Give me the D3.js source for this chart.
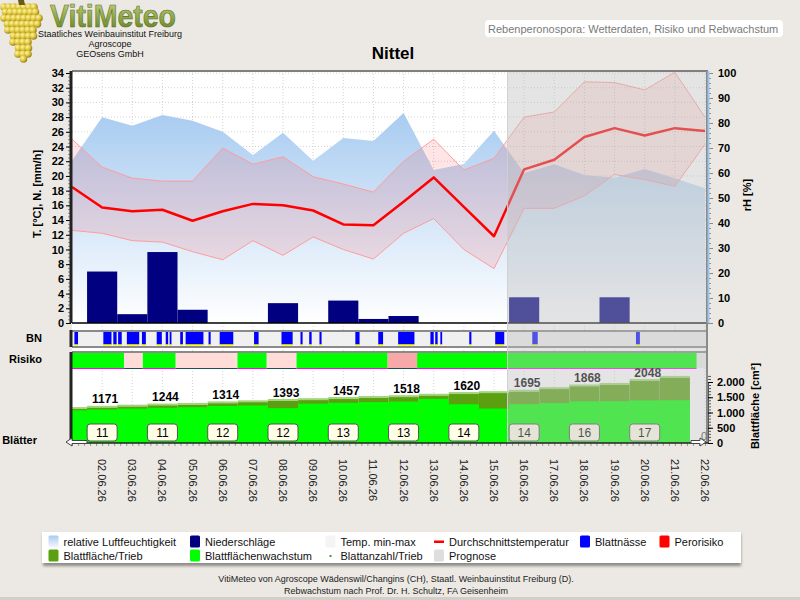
<!DOCTYPE html>
<html>
<head>
<meta charset="utf-8">
<script src="https://cdn.jsdelivr.net/npm/d3@7"></script>
<style>
  body { margin: 0; background: #ece9e4; }
  svg { display: block; font-family: "Liberation Sans", Arial, sans-serif; }
</style>
</head>
<body>
<div id="chart"></div>
<script>
// ---- data (days 1..22 = 01.06.26 .. 22.06.26) ----
const days = d3.range(1, 23);
const dateLabels = ["02.06.26", "03.06.26", "04.06.26", "05.06.26", "06.06.26", "07.06.26", "08.06.26",
  "09.06.26", "10.06.26", "11.06.26", "12.06.26", "13.06.26", "14.06.26", "15.06.26", "16.06.26",
  "17.06.26", "18.06.26", "19.06.26", "20.06.26", "21.06.26", "22.06.26"];
const tempAvg = [18.5, 15.7, 15.2, 15.4, 13.9, 15.2, 16.2, 16.0, 15.3, 13.4, 13.3, 16.5, 19.8, 15.8, 11.8,
  20.9, 22.2, 25.3, 26.5, 25.5, 26.5, 26.1];
const tempMin = [12.6, 12.2, 11.2, 11.0, 9.7, 8.6, 11.2, 9.2, 11.7, 10.0, 8.7, 12.2, 14.2, 10.0, 7.4,
  15.6, 15.6, 17.3, 20.2, 19.5, 18.6, 24.3];
const tempMax = [25.0, 21.2, 19.7, 19.3, 19.3, 23.8, 21.6, 22.6, 19.9, 18.9, 17.8, 22.0, 25.0, 20.8, 22.4,
  28.0, 28.7, 32.8, 32.7, 31.7, 34.1, 28.0];
const humidity = [65.0, 82.3, 78.9, 83.2, 80.9, 76.5, 67.2, 76.1, 64.9, 74.0, 72.8, 84.0, 61.2, 63.6, 76.9,
  59.9, 63.5, 59.2, 58.1, 61.6, 57.9, 53.9];
const precip = [0, 7.0, 1.2, 9.65, 1.8, 0, 0, 2.7, 0, 3.05, 0.55, 0.95, 0, 0, 0, 3.5, 0, 0, 3.5, 0, 0, 0];

// leaf wetness periods [from, to] in days
const wetness = [[1.08, 1.2], [2.04, 2.31], [2.37, 2.48], [2.53, 2.65], [2.82, 3.23], [3.32, 3.45],
  [3.81, 3.98], [4.11, 4.19], [4.24, 4.3], [4.59, 4.68], [4.77, 5.36], [5.53, 5.6], [5.9, 6.35],
  [7.04, 7.19], [7.95, 8.32], [8.58, 8.65], [8.87, 8.95], [9.21, 9.28], [10.4, 10.54], [11.16, 11.32],
  [11.82, 12.36], [12.89, 13.0], [13.05, 13.13], [13.22, 13.28], [14.18, 14.25], [15.04, 15.34],
  [16.27, 16.45], [19.71, 19.84]];

// infection risk periods [from, to, level]
const riskPeriods = [[1.0, 2.73, 0], [2.73, 3.35, 1], [3.35, 4.44, 0], [4.44, 6.49, 1], [6.49, 7.46, 0],
  [7.46, 8.45, 1], [8.45, 11.47, 0], [11.47, 12.45, 2], [12.45, 21.72, 0]];
const riskColors = ["#00ff00", "#ffdcd8", "#f7a8a8"];

// leaf area per shoot (cm²), days 1..21
const leafArea = [1128, 1171, 1207, 1244, 1265, 1314, 1350, 1393, 1420, 1457, 1490, 1518, 1565, 1620, 1650,
  1695, 1780, 1868, 1920, 2048, 2150];
const leafGrowth = [1070, 1100, 1127, 1154, 1175, 1214, 1230, 1143, 1290, 1317, 1340, 1358, 1445, 1270, 1130,
  1275, 1310, 1368, 1370, 1398, 1400];
const leafLabelDays = [2, 4, 6, 8, 10, 12, 14, 16, 18, 20];
const leafCounts = [11, 11, 12, 12, 13, 13, 14, 14, 16, 17];
const prognoseStart = 15.45;

// ---- layout ----
const width = 800, height = 600;
const L = 72, R = 708;
const mainTop = 71, mainBottom = 330;
const bnTop = 332, bnBottom = 346;
const riskTop = 353, riskBottom = 368;
const leafTop = 369, leafBottom = 443;

const x = d3.scaleLinear().domain([1, 22]).range([72, 705]);
const yT = d3.scaleLinear().domain([0, 34]).range([323, 73]);
const yH = d3.scaleLinear().domain([0, 100]).range([323, 73]);
const yL = d3.scaleLinear().domain([0, 2000]).range([443, 382]);
const de = d3.formatLocale({ decimal: ",", thousands: ".", grouping: [3], currency: ["", " €"] });

const svg = d3.select("#chart").append("svg")
  .attr("width", width).attr("height", height);

const defs = svg.append("defs");
let hg = defs.append("linearGradient").attr("id", "hum")
  .attr("gradientUnits", "userSpaceOnUse").attr("x1", 0).attr("x2", 0).attr("y1", 73).attr("y2", 323);
hg.append("stop").attr("offset", 0).attr("stop-color", "#98c2ee");
hg.append("stop").attr("offset", 1).attr("stop-color", "#ffffff");
let lg = defs.append("linearGradient").attr("id", "logo").attr("x1", 0).attr("x2", 0).attr("y1", 0).attr("y2", 1);
lg.append("stop").attr("offset", 0).attr("stop-color", "#c9d68e");
lg.append("stop").attr("offset", 0.55).attr("stop-color", "#8da545");
lg.append("stop").attr("offset", 1).attr("stop-color", "#5d7a22");
let gg = defs.append("radialGradient").attr("id", "berry").attr("cx", 0.35).attr("cy", 0.35).attr("r", 0.7);
gg.append("stop").attr("offset", 0).attr("stop-color", "#fff6a0");
gg.append("stop").attr("offset", 0.55).attr("stop-color", "#dcc23a");
gg.append("stop").attr("offset", 1).attr("stop-color", "#8f7a14");
let li = defs.append("linearGradient").attr("id", "legHum").attr("x1", 0).attr("x2", 0).attr("y1", 0).attr("y2", 1);
li.append("stop").attr("offset", 0).attr("stop-color", "#a8cbf0");
li.append("stop").attr("offset", 1).attr("stop-color", "#f4f8ff");
defs.append("filter").attr("id", "shadow").append("feGaussianBlur").attr("stdDeviation", 1.5);

// background
svg.append("rect").attr("width", width).attr("height", height).attr("fill", "#ece9e4");
svg.append("rect").attr("y", 597).attr("width", width).attr("height", 3).attr("fill", "#d3cfc8");

// ---- header ----
let logo = svg.append("g");
// grape cluster
let rows = [[7, 4, 38], [12, 3, 40], [18, 4, 40], [24, 5, 38], [30, 8, 36], [36, 11, 34], [42, 13, 32], [48, 16, 30], [54, 18, 28], [59, 21, 26]];
rows.forEach((r, i) => {
  for (let cx = r[1] + (i % 2 ? 2.5 : 0); cx <= r[2]; cx += 5) {
    logo.append("circle").attr("cx", cx).attr("cy", r[0]).attr("r", 3.8).attr("fill", "url(#berry)");
  }
});
logo.append("path").attr("d", "M18,0 L24,0 L25,5 L19,5 Z").attr("fill", "#6b5a1c");
logo.append("text").attr("x", 50).attr("y", 27).attr("font-size", 31).attr("font-weight", "bold")
  .attr("textLength", 126).attr("lengthAdjust", "spacingAndGlyphs")
  .attr("fill", "url(#logo)").attr("stroke", "#56701e").attr("stroke-width", 0.6).text("VitiMeteo");
[["Staatliches Weinbauinstitut Freiburg", 37], ["Agroscope", 47], ["GEOsens GmbH", 57]].forEach(t => {
  logo.append("text").attr("x", 110).attr("y", t[1]).attr("text-anchor", "middle")
    .attr("font-size", 9).attr("fill", "#111").text(t[0]);
});

svg.append("rect").attr("x", 485).attr("y", 20).attr("width", 298).attr("height", 17).attr("rx", 4).attr("fill", "#fff");
svg.append("text").attr("x", 488).attr("y", 32.5).attr("font-size", 11).attr("fill", "#7a7a7a")
  .text("Rebenperonospora: Wetterdaten, Risiko und Rebwachstum");
svg.append("text").attr("x", 393).attr("y", 59).attr("text-anchor", "middle")
  .attr("font-size", 17).attr("font-weight", "bold").attr("fill", "#000").text("Nittel");

// ---- plot backgrounds & grid ----
svg.append("rect").attr("x", L).attr("y", mainTop).attr("width", R - L).attr("height", leafBottom - mainTop).attr("fill", "#fff");

let grid = svg.append("g").attr("stroke", "#d4d4d4").attr("stroke-dasharray", "1,2");
grid.selectAll("line.v").data(days.slice(1)).enter().append("line")
  .attr("x1", d => x(d)).attr("x2", d => x(d)).attr("y1", mainTop).attr("y2", leafBottom);
grid.selectAll("line.h").data(d3.range(2, 35, 2)).enter().append("line")
  .attr("x1", L).attr("x2", R).attr("y1", d => yT(d)).attr("y2", d => yT(d));

// ---- main chart ----
let rows22 = days.map((d, i) => ({ day: d, avg: tempAvg[i], min: tempMin[i], max: tempMax[i], hum: humidity[i], p: precip[i] }));

svg.append("path").datum(rows22).attr("fill", "url(#hum)")
  .attr("d", d3.area().x(d => x(d.day)).y0(yH(0)).y1(d => yH(d.hum)));

svg.append("path").datum(rows22).attr("fill", "rgba(255,40,40,0.12)")
  .attr("d", d3.area().x(d => x(d.day)).y0(d => yT(d.min)).y1(d => yT(d.max)));
["min", "max"].forEach(k => {
  svg.append("path").datum(rows22).attr("fill", "none").attr("stroke", "#ff9c9c").attr("stroke-width", 1)
    .attr("d", d3.line().x(d => x(d.day)).y(d => yT(d[k])));
});

svg.append("g").attr("fill", "#000080")
  .selectAll("rect").data(rows22.filter(d => d.p > 0)).enter().append("rect")
  .attr("x", d => x(d.day - 0.5)).attr("width", d => x(d.day + 0.5) - x(d.day - 0.5))
  .attr("y", d => yT(d.p)).attr("height", d => yT(0) - yT(d.p));

svg.append("path").datum(rows22).attr("fill", "none").attr("stroke", "#ff0000").attr("stroke-width", 2.5)
  .attr("stroke-linejoin", "round")
  .attr("d", d3.line().x(d => x(d.day)).y(d => yT(d.avg)));

svg.append("line").attr("x1", L).attr("x2", R).attr("y1", yT(0)).attr("y2", yT(0))
  .attr("stroke", "#000").attr("stroke-width", 1.5);

// ---- BN strip ----
svg.append("rect").attr("x", L).attr("y", bnTop).attr("width", R - L).attr("height", bnBottom - bnTop).attr("fill", "#f0f0f0");
let bn = svg.append("g");
bn.selectAll("rect.w").data(wetness).enter().append("rect")
  .attr("x", d => x(d[0])).attr("width", d => x(d[1]) - x(d[0]))
  .attr("y", bnTop).attr("height", bnBottom - bnTop - 1.5).attr("fill", "#0000ff");
bn.selectAll("rect.y").data(wetness).enter().append("rect")
  .attr("x", d => x(d[0])).attr("width", d => x(d[1]) - x(d[0]))
  .attr("y", bnBottom - 1.5).attr("height", 1.5).attr("fill", "#ffff00");
[331, 347, 352].forEach(y => {
  svg.append("line").attr("x1", L).attr("x2", R).attr("y1", y).attr("y2", y).attr("stroke", "#8a8a8a").attr("stroke-width", 2);
});

// ---- Risiko strip ----
svg.append("rect").attr("x", L).attr("y", riskTop).attr("width", R - L).attr("height", riskBottom - riskTop).attr("fill", "#ececec");
let risk = svg.append("g");
risk.selectAll("rect").data(riskPeriods).enter().append("rect")
  .attr("x", d => x(d[0])).attr("width", d => x(d[1]) - x(d[0]))
  .attr("y", riskTop).attr("height", riskBottom - riskTop).attr("fill", d => riskColors[d[2]]);
risk.selectAll("line").data(riskPeriods).enter().append("line")
  .attr("x1", d => x(d[0])).attr("x2", d => x(d[1])).attr("y1", riskBottom + 0.5).attr("y2", riskBottom + 0.5)
  .attr("stroke", d => d[2] ? "#1c5050" : "#ff00ff").attr("stroke-width", 1);

// ---- Blätter panel ----
let leafRows = leafArea.map((v, i) => ({ day: i + 1, area: v, growth: leafGrowth[i] }));
let leaf = svg.append("g");
let x0 = d => Math.max(L, x(d.day - 0.5)), x1 = d => Math.min(R, x(d.day + 0.5));
leaf.selectAll("rect.a").data(leafRows).enter().append("rect")
  .attr("x", x0).attr("width", d => x1(d) - x0(d))
  .attr("y", d => yL(d.area)).attr("height", d => yL(0) - yL(d.area)).attr("fill", "#5aa010");
leaf.selectAll("line.t").data(leafRows).enter().append("line")
  .attr("x1", x0).attr("x2", x1).attr("y1", d => yL(d.area) - 0.5).attr("y2", d => yL(d.area) - 0.5)
  .attr("stroke", "#a2d47a").attr("stroke-width", 2);
leaf.selectAll("rect.g").data(leafRows).enter().append("rect")
  .attr("x", x0).attr("width", d => x1(d) - x0(d))
  .attr("y", d => yL(d.growth)).attr("height", d => yL(0) - yL(d.growth)).attr("fill", "#00ff00");

leaf.selectAll("text.v").data(leafLabelDays).enter().append("text")
  .attr("x", d => x(d) + 3).attr("y", d => yL(leafArea[d - 1]) - 4)
  .attr("text-anchor", "middle").attr("font-size", 12).attr("font-weight", "bold").attr("fill", "#000")
  .text(d => leafArea[d - 1]);

let boxes = leaf.selectAll("g.box").data(leafLabelDays).enter().append("g")
  .attr("transform", d => "translate(" + x(d) + ",424)");
boxes.append("rect").attr("x", -15).attr("width", 30).attr("height", 17).attr("rx", 3)
  .attr("fill", "#ffffe8").attr("stroke", "#555").attr("stroke-width", 1);
boxes.append("text").attr("y", 12.5).attr("text-anchor", "middle").attr("font-size", 12).attr("fill", "#000")
  .text((d, i) => leafCounts[i]);

// ---- prognose overlay ----
svg.append("rect").attr("x", x(prognoseStart)).attr("y", mainTop)
  .attr("width", R - x(prognoseStart)).attr("height", leafBottom - mainTop)
  .attr("fill", "rgba(190,190,190,0.42)");
svg.append("line").attr("x1", x(prognoseStart)).attr("x2", x(prognoseStart)).attr("y1", mainTop).attr("y2", leafBottom)
  .attr("stroke", "#cfcfcf");

// frame
svg.append("line").attr("x1", L).attr("x2", R).attr("y1", mainTop).attr("y2", mainTop).attr("stroke", "#808080").attr("stroke-width", 2);
svg.append("line").attr("x1", R - 1).attr("x2", R - 1).attr("y1", mainTop).attr("y2", leafBottom).attr("stroke", "#8a8a8a").attr("stroke-width", 2);

// ---- axes ----
let axT = svg.append("g").attr("transform", "translate(" + (L - 1) + ",0)");
axT.call(d3.axisLeft(yT).tickValues(d3.range(0, 34.01, 0.5)).tickSize(3).tickFormat(""));
axT.call(g => g.selectAll(".tick line").attr("stroke", "#8a8a8a"));
let axT2 = svg.append("g").attr("transform", "translate(" + (L - 1) + ",0)")
  .call(d3.axisLeft(yT).tickValues(d3.range(0, 35, 2)).tickSize(5).tickPadding(2));
axT2.selectAll("text").attr("font-size", 11).attr("font-weight", "bold").attr("fill", "#000")
  .attr("font-family", "Liberation Sans, Arial, sans-serif");
svg.selectAll(".domain").remove();
[[mainTop, 323], [330, 347], [352, leafBottom]].forEach(s => {
  svg.append("line").attr("x1", L - 1).attr("x2", L - 1).attr("y1", s[0]).attr("y2", s[1])
    .attr("stroke", "#222").attr("stroke-width", 3);
});

let axH = svg.append("g").attr("transform", "translate(" + R + ",0)")
  .call(d3.axisRight(yH).tickValues(d3.range(0, 101, 2)).tickSize(3).tickFormat(""));
axH.selectAll(".tick line").attr("stroke", "#8a8a8a");
let axH2 = svg.append("g").attr("transform", "translate(" + R + ",0)")
  .call(d3.axisRight(yH).tickValues(d3.range(0, 101, 10)).tickSize(5).tickPadding(5));
axH2.selectAll(".tick line").attr("stroke", "#8a8a8a");
axH2.selectAll("text").attr("font-size", 11).attr("font-weight", "bold").attr("fill", "#000")
  .attr("font-family", "Liberation Sans, Arial, sans-serif");
axH.select(".domain").remove(); axH2.select(".domain").remove();
svg.append("line").attr("x1", R + 0.5).attr("x2", R + 0.5).attr("y1", mainTop).attr("y2", 323)
  .attr("stroke", "#9cc6ee").attr("stroke-width", 2);

let axL = svg.append("g").attr("transform", "translate(" + R + ",0)")
  .call(d3.axisRight(yL).tickValues(d3.range(0, 2201, 100)).tickSize(3).tickFormat(""));
axL.selectAll(".tick line").attr("stroke", "#555");
let axL2 = svg.append("g").attr("transform", "translate(" + R + ",0)")
  .call(d3.axisRight(yL).tickValues([0, 500, 1000, 1500, 2000]).tickSize(5).tickPadding(4).tickFormat(de.format(",")));
axL2.selectAll("text").attr("font-size", 11).attr("font-weight", "bold").attr("fill", "#000")
  .attr("font-family", "Liberation Sans, Arial, sans-serif");
axL.select(".domain").remove(); axL2.select(".domain").attr("stroke", "#555");
svg.append("text").attr("x", 704).attr("y", 440).attr("text-anchor", "middle").attr("font-size", 11).attr("fill", "#777").text("0");

// x axis
let axX = svg.append("g").attr("transform", "translate(0," + leafBottom + ")")
  .call(d3.axisBottom(x).tickValues(d3.range(1, 22.01, 0.2)).tickSize(3).tickFormat(""));
axX.selectAll(".tick line").attr("stroke", "#999");
axX.select(".domain").remove();
svg.append("line").attr("x1", L).attr("x2", R).attr("y1", leafBottom).attr("y2", leafBottom).attr("stroke", "#222").attr("stroke-width", 1.5);
svg.append("g").selectAll("text").data(dateLabels).enter().append("text")
  .attr("transform", (d, i) => "translate(" + (x(i + 2) - 4) + ",459) rotate(90)")
  .attr("font-size", 11).attr("fill", "#222").text(d => d);

// arrows
svg.append("path").attr("d", "M66,442 L72,438 L72,440.5 L87,440.5 L87,443.5 L72,443.5 L72,446 Z")
  .attr("fill", "#fff").attr("stroke", "#444").attr("stroke-width", 1);
svg.append("path").attr("d", "M706,442 L700,438 L700,440.5 L691,440.5 L691,443.5 L700,443.5 L700,446 Z")
  .attr("fill", "#fff").attr("stroke", "#444").attr("stroke-width", 1);

// axis titles & row labels
svg.append("text").attr("transform", "translate(41,194) rotate(-90)").attr("text-anchor", "middle")
  .attr("font-size", 11).attr("font-weight", "bold").text("T. [°C], N. [mm/h]");
svg.append("text").attr("transform", "translate(751,195) rotate(-90)").attr("text-anchor", "middle")
  .attr("font-size", 11).attr("font-weight", "bold").text("rH [%]");
svg.append("text").attr("transform", "translate(759,406) rotate(-90)").attr("text-anchor", "middle")
  .attr("font-size", 11).attr("font-weight", "bold").text("Blattfläche [cm²]");
[["BN", 342], ["Risiko", 363], ["Blätter", 444]].forEach(t => {
  svg.append("text").attr("x", t[0] === "Blätter" ? 37 : 42).attr("y", t[1]).attr("text-anchor", "end")
    .attr("font-size", 11).attr("font-weight", "bold").text(t[0]);
});

// ---- legend ----
svg.append("rect").attr("x", 43).attr("y", 534).attr("width", 698).attr("height", 32).attr("fill", "#8c8a86").attr("filter", "url(#shadow)");
svg.append("rect").attr("x", 42).attr("y", 532).attr("width", 699).attr("height", 31).attr("fill", "#fff");
const legendItems = [
  ["relative Luftfeuchtigkeit", "url(#legHum)", 48.5, 541.5, "box"],
  ["Niederschläge", "#000080", 190, 541.5, "box"],
  ["Temp. min-max", "#f4f4f4", 325.5, 541.5, "box"],
  ["Durchschnittstemperatur", "#ff0000", 434, 541.5, "line"],
  ["Blattnässe", "#0000ff", 580, 541.5, "box"],
  ["Perorisiko", "#ff0000", 659.5, 541.5, "box"],
  ["Blattfläche/Trieb", "#5aa010", 48.5, 555.5, "box"],
  ["Blattflächenwachstum", "#00ff00", 190, 555.5, "box"],
  ["Blattanzahl/Trieb", "#3a9a3a", 325.5, 555.5, "dot"],
  ["Prognose", "#dedede", 434, 555.5, "box"]
];
let leg = svg.append("g").selectAll("g").data(legendItems).enter().append("g")
  .attr("transform", d => "translate(" + d[2] + "," + d[3] + ")");
leg.filter(d => d[4] === "box").append("rect").attr("x", 0).attr("y", -6).attr("width", 10).attr("height", 12)
  .attr("rx", 1.5).attr("fill", d => d[1]);
leg.filter(d => d[4] === "line").append("rect").attr("x", 0).attr("y", -1).attr("width", 10).attr("height", 2.5).attr("fill", d => d[1]);
leg.filter(d => d[4] === "dot").append("rect").attr("x", 4).attr("y", -0.5).attr("width", 2).attr("height", 2).attr("fill", d => d[1]);
leg.append("text").attr("x", 15).attr("y", 4).attr("font-size", 11).attr("fill", "#111").text(d => d[0]);

// footer
svg.append("text").attr("x", 396).attr("y", 582).attr("text-anchor", "middle").attr("font-size", 9).attr("fill", "#222")
  .text("VitiMeteo von Agroscope Wädenswil/Changins (CH), Staatl. Weinbauinstitut Freiburg (D).");
svg.append("text").attr("x", 396).attr("y", 594).attr("text-anchor", "middle").attr("font-size", 9).attr("fill", "#222")
  .text("Rebwachstum nach Prof. Dr. H. Schultz, FA Geisenheim");
</script>
</body>
</html>
